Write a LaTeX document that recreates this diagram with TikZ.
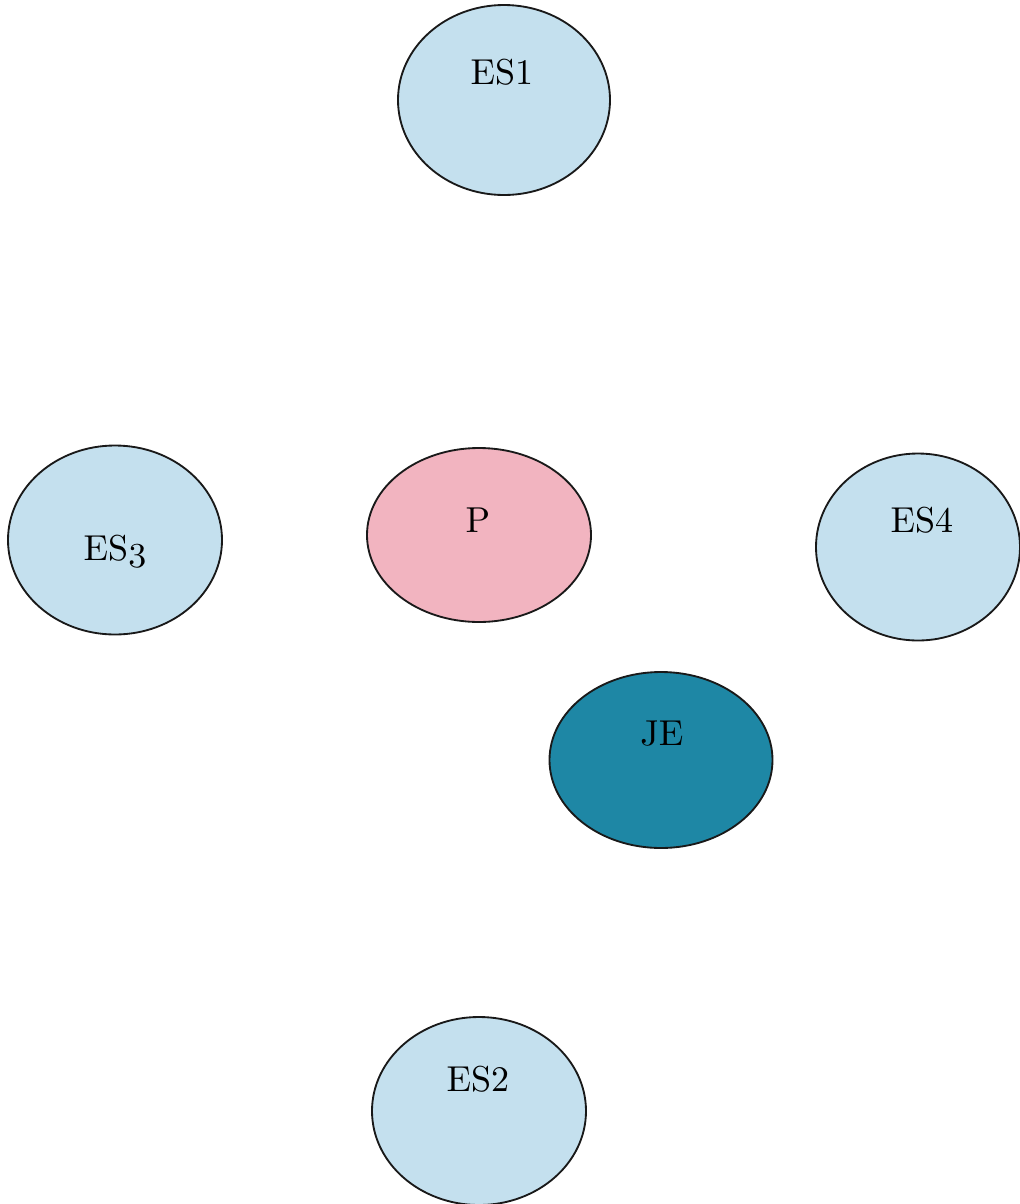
\documentclass[tikz,border=0pt]{standalone}
\usetikzlibrary{shapes.geometric}
\definecolor{skyfill}{RGB}{196,224,238}
\definecolor{pinkfill}{RGB}{242,180,192}
\definecolor{tealfill}{RGB}{30,135,165}
\font\lblfont=cmr10 at 20.5pt
\font\oldfont=cmmi10 at 20.5pt
\tikzset{
  blob/.style={ellipse, draw=black!90, line width=1.05pt, inner sep=0pt},
  sky/.style={blob, fill=skyfill},
  lbl/.style={anchor=base, inner sep=0pt, font=\lblfont}
}
\begin{document}
\begin{tikzpicture}[x=0.02cm,y=-0.02cm]
\useasboundingbox (0,0) rectangle (1019,1204);
\node[sky, minimum width=212*0.02cm, minimum height=190*0.02cm] (es1) at (504,100) {};
\node[lbl] (t1) at (502,84) {ES1};
\node[blob, fill=pinkfill, minimum width=224*0.02cm, minimum height=174*0.02cm] (p) at (479,535) {};
\node[lbl] (tp) at (478,532) {P};
\node[sky, minimum width=214*0.02cm, minimum height=189*0.02cm] (es3) at (115,540) {};
\node[lbl] (t3) at (115,560) {ES{\oldfont 3}};
\node[sky, minimum width=204*0.02cm, minimum height=187*0.02cm] (es4) at (918,547) {};
\node[lbl] (t4) at (922,532) {ES4};
\node[blob, fill=tealfill, minimum width=223*0.02cm, minimum height=176*0.02cm] (je) at (661,760) {};
\node[lbl] (tje) at (662,745) {JE};
\node[sky, minimum width=214*0.02cm, minimum height=188*0.02cm] (es2) at (479,1111) {};
\node[lbl] (t2) at (478,1091) {ES2};
\end{tikzpicture}
\end{document}
